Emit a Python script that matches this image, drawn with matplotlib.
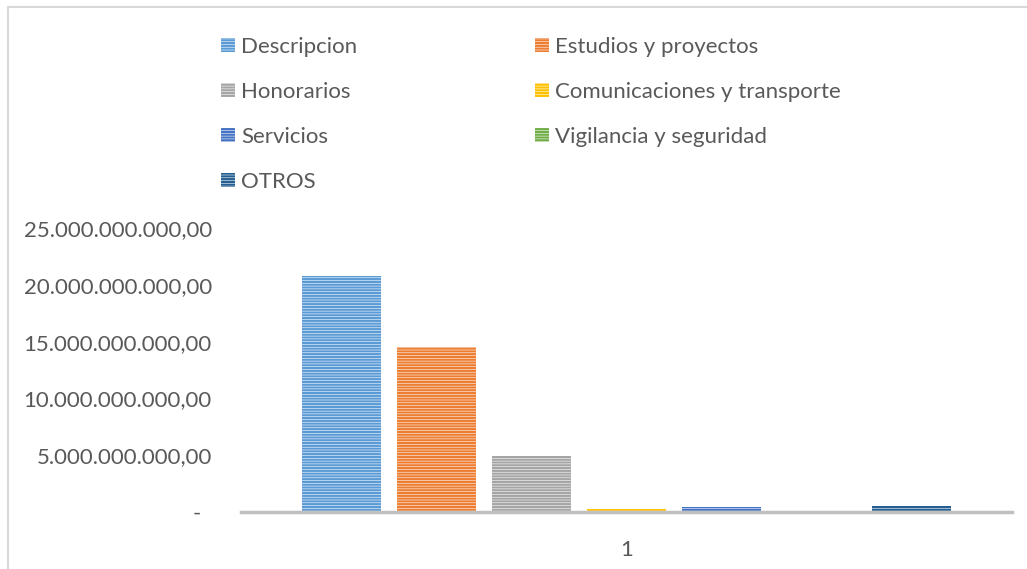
import matplotlib.pyplot as plt
import matplotlib.patches as mpatches
import numpy as np

# series of the single category "1"
series = ["Descripcion", "Estudios y proyectos", "Honorarios",
          "Comunicaciones y transporte", "Servicios",
          "Vigilancia y seguridad", "OTROS"]
values = [20.8e9, 14.55e9, 4.9e9, 0.26e9, 0.45e9, 0.03e9, 0.55e9]
colors = ["#5B9BD5", "#ED7D31", "#A5A5A5", "#FFC000", "#4472C4",
          "#70AD47", "#255E91"]
yticks = [0, 5e9, 10e9, 15e9, 20e9, 25e9]

plt.rcParams["font.family"] = ["Lato", "DejaVu Sans"]
plt.rcParams["hatch.linewidth"] = 1.6

fig = plt.figure(figsize=(10.27, 5.69), dpi=100)
ax = fig.add_axes([241 / 1027, 57 / 569, 771 / 1027, 284 / 569])

# chart border (cut at right and bottom like the source)
fig.patches.append(mpatches.Rectangle((8 / 1027, -0.1), 1.2, 1.1 - 7 / 569,
                                      transform=fig.transFigure, fill=False,
                                      edgecolor="#D9D9D9", linewidth=1.5))

step = 0.1232
width = 0.1025
handles = []
for i, (name, v, c) in enumerate(zip(series, values, colors)):
    x = 1 + (i - 3) * step
    b = ax.bar(x, v, width=width, color="white", edgecolor=c, hatch="------",
               linewidth=0, label=name)
    handles.append(b)

ax.set_xlim(0.5, 1.5)
ax.set_ylim(0, 25e9)
ax.set_xticks([1])
ax.set_xticklabels(["1"])
ax.set_yticks(yticks)


def fmt(v):
    if v == 0:
        return "-"
    s = f"{v:,.2f}"
    return s.replace(",", "X").replace(".", ",").replace("X", ".")


ax.set_yticklabels([fmt(v) for v in yticks])
ax.tick_params(axis="both", length=0, labelsize=16, colors="#595959")
ax.tick_params(axis="y", pad=21)
ax.tick_params(axis="x", pad=20)
ax.get_yticklabels()[0].set_x(-11 / 771)
for s in ["top", "right", "left"]:
    ax.spines[s].set_visible(False)
ax.spines["bottom"].set_color("#BFBFBF")
ax.spines["bottom"].set_linewidth(2.5)

# legend reads row by row: reorder for column filling
order = [0, 2, 4, 6, 1, 3, 5]
leg = fig.legend([handles[k] for k in order], [series[k] for k in order],
                 ncol=2, loc="upper left", bbox_to_anchor=(201 / 1027, 1 - 17 / 569),
                 frameon=False, fontsize=16, handlelength=0.63, handleheight=0.63,
                 handletextpad=0.27, labelspacing=1.12, columnspacing=8.0,
                 labelcolor="#595959")

fig.savefig("out.png", dpi=100)
